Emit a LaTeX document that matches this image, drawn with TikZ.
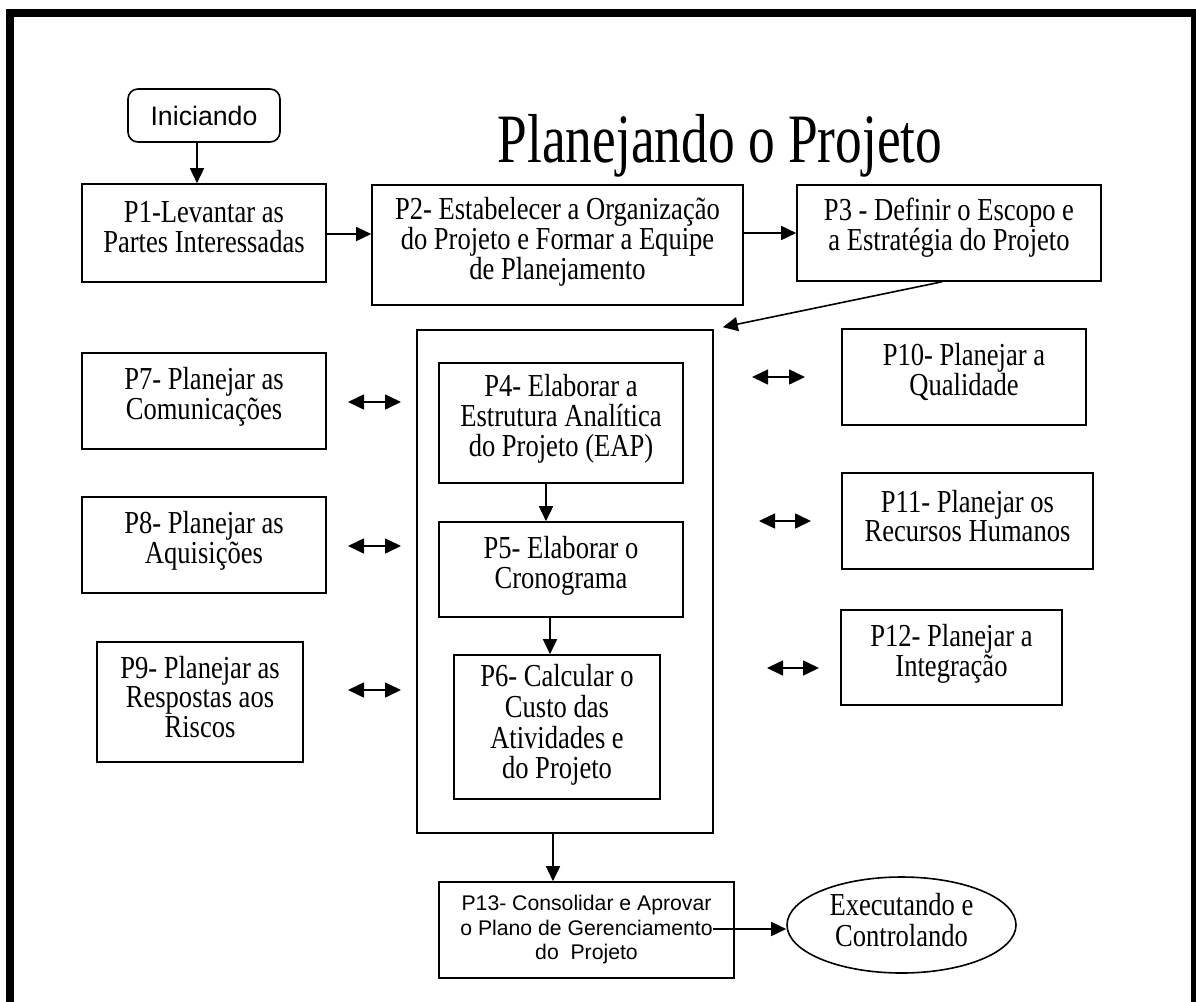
\documentclass[tikz,border=0pt]{standalone}
\usepackage{fontspec}
\setmainfont{Liberation Serif}[FakeStretch=0.83]
\newfontfamily\headfont{Liberation Serif}[FakeStretch=0.77]
\newfontfamily\arialfont{Liberation Sans}
\usetikzlibrary{arrows.meta,shapes.geometric}
\newcommand\diagbody{\fontsize{32}{29.8}\selectfont}
\tikzset{
  box/.style={draw, line width=1.6pt, inner sep=0pt},
  txt/.style={inner sep=0pt, align=center, font=\diagbody},
  arr/.style={line width=1.6pt, -{Triangle[length=15pt,width=14pt]}},
  dbl/.style={line width=1.6pt, {Triangle[length=16pt,width=15pt]}-{Triangle[length=16pt,width=15pt]}},
  frame/.style={line width=8pt}
}
\begin{document}
\begin{tikzpicture}[x=1pt,y=-1pt]
\useasboundingbox (0,0) rectangle (1196,1001);
% outer frame (open at the bottom)
\draw[frame] (10,1010) -- (10,13) -- (1195,13) -- (1195,1010);

% title
\node[anchor=base, inner sep=0pt, font=\headfont\fontsize{69.3}{70}\selectfont] (title) at (720,162) {Planejando o Projeto};

% start
\node[draw, line width=1.6pt, rounded corners=10pt, minimum width=152pt, minimum height=53pt, inner sep=0pt,
      font=\arialfont\fontsize{26.7}{30}\selectfont] (init) at (204,115.5) {Iniciando};

% top row
\node[box, minimum width=244pt, minimum height=98pt] (p1) at (204,233) {};
\node[txt] (p1t) at ([yshift=6pt]p1.center) {P1-Levantar as\\Partes Interessadas};
\node[box, minimum width=371pt, minimum height=120pt] (p2) at (557.5,245) {};
\node[txt] (p2t) at ([yshift=3pt]p2.center) {P2- Estabelecer a Organização\\do Projeto e Formar a Equipe\\de Planejamento};
\node[box, minimum width=304pt, minimum height=96pt] (p3) at (949,233) {};
\node[txt] (p3t) at ([yshift=5pt]p3.center) {P3 - Definir o Escopo e\\a Estratégia do Projeto};

% central group
\node[box, minimum width=296pt, minimum height=503pt] (core) at (565,581.5) {};
\node[box, minimum width=244pt, minimum height=120pt] (p4) at (561,423) {};
\node[txt] (p4t) at ([yshift=4pt]p4.center) {P4- Elaborar a\\Estrutura Analítica\\do Projeto (EAP)};
\node[box, minimum width=244pt, minimum height=95pt] (p5) at (561,569.5) {};
\node[txt] (p5t) at ([yshift=4pt]p5.center) {P5- Elaborar o\\Cronograma};
\node[box, minimum width=206pt, minimum height=144pt] (p6) at (557,727) {};
\node[txt, font=\fontsize{32}{30.8}\selectfont] (p6t) at ([yshift=2pt]p6.center) {P6- Calcular o\\Custo das\\Atividades e\\do Projeto};

% left column
\node[box, minimum width=244pt, minimum height=96pt] (p7) at (204,401) {};
\node[txt] (p7t) at ([yshift=4pt]p7.center) {P7- Planejar as\\Comunicações};
\node[box, minimum width=244pt, minimum height=96pt] (p8) at (204,545) {};
\node[txt] (p8t) at ([yshift=4pt]p8.center) {P8- Planejar as\\Aquisições};
\node[box, minimum width=206pt, minimum height=120pt] (p9) at (200,702) {};
\node[txt] (p9t) at ([yshift=5pt]p9.center) {P9- Planejar as\\Respostas aos\\Riscos};

% right column
\node[box, minimum width=244pt, minimum height=96pt] (p10) at (964,377) {};
\node[txt] (p10t) at ([yshift=5pt]p10.center) {P10- Planejar a\\Qualidade};
\node[box, minimum width=251pt, minimum height=96pt] (p11) at (967.5,521) {};
\node[txt] (p11t) at ([yshift=5pt]p11.center) {P11- Planejar os\\Recursos Humanos};
\node[box, minimum width=221pt, minimum height=95pt] (p12) at (951.5,657.5) {};
\node[txt] (p12t) at ([yshift=4pt]p12.center) {P12- Planejar a\\Integração};

% closing
\node[box, minimum width=295pt, minimum height=96pt, align=center,
      font=\arialfont\fontsize{21.2}{24.5}\selectfont] (p13) at (586.5,930) {P13- Consolidar e Aprovar\\o Plano de Gerenciamento\\do\ \ Projeto};
\node[draw, ellipse, line width=1.6pt, minimum width=229pt, minimum height=96pt, inner sep=0pt] (exec) at (901.5,925) {};
\node[txt, font=\fontsize{32}{31}\selectfont] (exect) at ([yshift=5pt]exec.center) {Executando e\\Controlando};

% flow
\draw[arr] ([xshift=-7pt]init.south) -- ([xshift=-7pt]init.south |- p1.north);
\draw[arr] (p1.east |- 0,234) -- (p2.west |- 0,234);
\draw[arr] (p2.east |- 0,233) -- (p3.west |- 0,233);
\draw[arr] ([xshift=-7pt]p3.south) -- ([xshift=9pt,yshift=2pt]core.north east);
\draw[arr] ([xshift=-15pt]p4.south) -- ([xshift=-15pt]p4.south |- p5.north);
\draw[arr] ([xshift=-11pt]p5.south) -- ([xshift=-11pt]p5.south |- p6.north);
\draw[arr] ([xshift=-12pt]core.south) -- ([xshift=-12pt]core.south |- p13.north);
\draw[arr] ([xshift=-22pt,yshift=1pt]p13.east) -- (exec.west |- 0,929);

% exchanges with the central group
\coordinate (l7a) at (348,402); \coordinate (l7b) at (401,402);
\coordinate (l8a) at (348,546); \coordinate (l8b) at (401,546);
\coordinate (l9a) at (348,690); \coordinate (l9b) at (401,690);
\coordinate (r10a) at (752,377); \coordinate (r10b) at (805,377);
\coordinate (r11a) at (759,521); \coordinate (r11b) at (811,521);
\coordinate (r12a) at (767,668); \coordinate (r12b) at (819,668);
\draw[dbl] (l7a) -- (l7b);
\draw[dbl] (l8a) -- (l8b);
\draw[dbl] (l9a) -- (l9b);
\draw[dbl] (r10a) -- (r10b);
\draw[dbl] (r11a) -- (r11b);
\draw[dbl] (r12a) -- (r12b);
\end{tikzpicture}
\end{document}
